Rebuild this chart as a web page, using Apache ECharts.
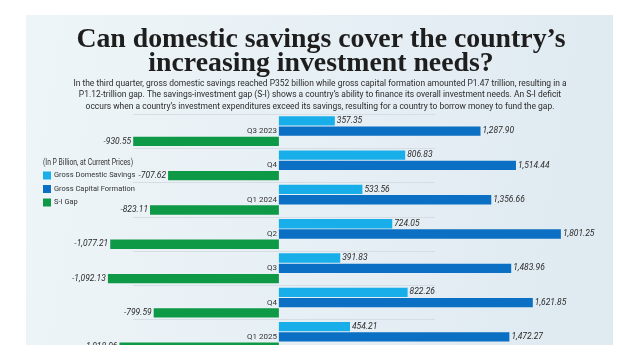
<!DOCTYPE html>
<html>
<head>
<meta charset="utf-8">
<script src="https://cdn.jsdelivr.net/npm/echarts@6/dist/echarts.min.js"></script>
<style>
html,body{margin:0;padding:0;background:#ffffff;}
#chart{width:640px;height:360px;}
</style>
</head>
<body>
<div id="chart"></div>
<script>
const categories = ['Q3 2023', 'Q4', 'Q1 2024', 'Q2', 'Q3', 'Q4', 'Q1 2025'];
const grossDomesticSavings = [357.35, 806.83, 533.56, 724.05, 391.83, 822.26, 454.21];
const grossCapitalFormation = [1287.90, 1514.44, 1356.66, 1801.25, 1483.96, 1621.85, 1472.27];
const siGap = [-930.55, -707.62, -823.11, -1077.21, -1092.13, -799.59, -1018.06];
const seriesNames = ['Gross Domestic Savings', 'Gross Capital Formation', 'S-I Gap'];

const titleText = 'Can domestic savings cover the country\u2019s\nincreasing investment needs?';
const subText = 'In the third quarter, gross domestic savings reached P352 billion while gross capital formation amounted P1.47 trillion, resulting in a\nP1.12-trillion gap. The savings-investment gap (S-I) shows a country\u2019s ability to finance its overall investment needs. An S-I deficit\noccurs when a country\u2019s investment expenditures exceed its savings, resulting for a country to borrow money to fund the gap.';
const unitText = '(In P Billion, at Current Prices)';

const SANS = 'Roboto, "Liberation Sans", sans-serif';
const SERIF = '"Liberation Serif", "DejaVu Serif", serif';
const fmt = v => Number(v).toLocaleString('en-US', {minimumFractionDigits: 2, maximumFractionDigits: 2});

const chart = echarts.init(document.getElementById('chart'), null, {renderer: 'canvas'});

const labelStyle = {
  show: true,
  fontFamily: SANS,
  fontSize: 8.5,
  fontStyle: 'italic',
  color: '#2a2a2a',
  distance: 2,
  formatter: p => fmt(p.value)
};

const option = {
  backgroundColor: '#ffffff',
  animation: false,
  graphic: [
    {
      type: 'rect', z: -10, silent: true,
      shape: {x: 26, y: 15, width: 587, height: 330},
      style: {
        fill: new echarts.graphic.LinearGradient(0, 0, 1, 0.3, [
          {offset: 0, color: '#eef5f8'},
          {offset: 1, color: '#dfeaf1'}
        ])
      }
    },
    {
      type: 'text', z: 10, silent: true, x: 321, y: 28,
      style: {
        text: titleText, align: 'center', verticalAlign: 'top',
        fontFamily: SERIF, fontWeight: 'bold', fontSize: 27.8, lineHeight: 24, fill: '#1e1e1e'
      }
    },
    {
      type: 'text', z: 10, silent: true, x: 320, y: 77.5, scaleX: 0.89,
      style: {
        text: subText, align: 'center', verticalAlign: 'top',
        fontFamily: SANS, fontSize: 9.5, lineHeight: 11.5, fill: '#2b2b2b'
      }
    },
    {
      type: 'text', z: 10, silent: true, x: 43, y: 158, scaleX: 0.8,
      style: {
        text: unitText, align: 'left', verticalAlign: 'top',
        fontFamily: SANS, fontSize: 8.5, fill: '#333333'
      }
    },
    {
      type: 'rect', zlevel: 1, z: 100, silent: true,
      shape: {x: 0, y: 345, width: 640, height: 15},
      style: {fill: '#ffffff'}
    }
  ],
  legend: {
    orient: 'vertical',
    left: 43, top: 171, padding: 0,
    itemWidth: 8, itemHeight: 8, itemGap: 4.5,
    icon: 'rect',
    data: seriesNames,
    textStyle: {fontFamily: SANS, fontSize: 7.5, lineHeight: 9, color: '#333333', padding: [0, 0, 0, -2]}
  },
  grid: [
    {left: 91, right: 48, top: 114, bottom: 6, containLabel: false},
    {left: 133, right: 205, top: 114, bottom: 6, containLabel: false}
  ],
  xAxis: [
    {type: 'value', gridIndex: 0, min: -1200, max: 2000, show: false},
    {type: 'value', gridIndex: 1, min: 0, max: 1, show: false}
  ],
  yAxis: [
    {
      type: 'category', gridIndex: 0, data: categories, inverse: true,
      axisLine: {show: false, onZero: false},
      axisTick: {show: false},
      splitLine: {show: false},
      axisLabel: {fontFamily: SANS, fontSize: 8, color: '#333333', margin: -186, align: 'right'}
    },
    {
      type: 'category', gridIndex: 1, data: categories, inverse: true,
      axisLine: {show: false}, axisTick: {show: false}, axisLabel: {show: false},
      splitLine: {show: true, lineStyle: {color: '#d6dee3', width: 1}}
    }
  ],
  series: [
    {
      name: seriesNames[0], type: 'bar', xAxisIndex: 0, yAxisIndex: 0,
      data: grossDomesticSavings,
      barGap: '10%', barCategoryGap: '13%',
      itemStyle: {color: '#17aeea'},
      label: Object.assign({position: 'right'}, labelStyle)
    },
    {
      name: seriesNames[1], type: 'bar', xAxisIndex: 0, yAxisIndex: 0,
      data: grossCapitalFormation,
      itemStyle: {color: '#0b6fc3'},
      label: Object.assign({position: 'right'}, labelStyle)
    },
    {
      name: seriesNames[2], type: 'bar', xAxisIndex: 0, yAxisIndex: 0,
      data: siGap,
      itemStyle: {color: '#0e9946'},
      label: Object.assign({position: 'left'}, labelStyle)
    }
  ]
};

chart.setOption(option);
</script>
</body>
</html>
